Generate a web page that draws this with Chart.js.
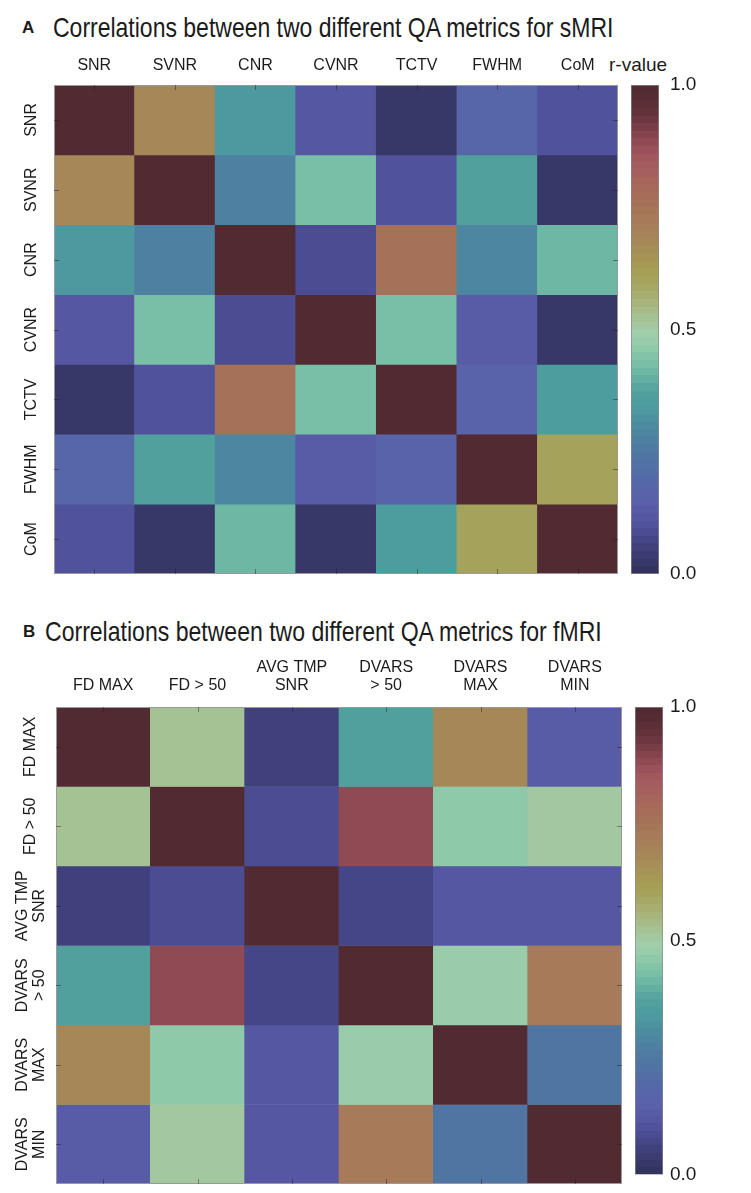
<!DOCTYPE html>
<html lang="en">
<head>
<meta charset="UTF-8">
<title>QA metric correlations - sMRI / fMRI</title>
<script src="https://cdn.jsdelivr.net/npm/chart.js"></script>
<style>
    body { margin: 0; background: #fff; }
    #page { position: relative; width: 751px; height: 1193px; overflow: hidden;
            font-family: "Liberation Sans", Arial, sans-serif; color: #1b1b1b; }
    canvas, .txt { position: absolute; }
    .txt { white-space: nowrap; transform-origin: left center; }
    .letter { font-weight: bold; font-size: 17px; line-height: 17px; }
    .title { font-size: 28px; line-height: 28px; }
    .cb-label { font-size: 19px; line-height: 19px; }
</style>
</head>
<body>
<div id="page">
    <div class="txt letter" style="left:22px; top:19px;">A</div>
    <div class="txt title" id="titleA" style="left:53px; top:14px;">Correlations between two different QA metrics for sMRI</div>
    <div class="txt cb-label" id="rvalue" style="left:609px; top:55px;">r-value</div>
    <canvas id="heatA" width="640" height="600" style="left:0; top:0;"></canvas>
    <canvas id="barA" width="151" height="600" style="left:600px; top:0;"></canvas>

    <div class="txt letter" style="left:23px; top:623px;">B</div>
    <div class="txt title" id="titleB" style="left:45px; top:618px;">Correlations between two different QA metrics for fMRI</div>
    <canvas id="heatB" width="640" height="593" style="left:0; top:600px;"></canvas>
    <canvas id="barB" width="151" height="593" style="left:600px; top:600px;"></canvas>
</div>
<script>
    // ---- data ----
    const smriLabels = ['SNR', 'SVNR', 'CNR', 'CVNR', 'TCTV', 'FWHM', 'CoM'];
    const smriValues = [
        [1.00, 0.68, 0.33, 0.12, 0.03, 0.18, 0.10],
        [0.68, 1.00, 0.27, 0.43, 0.10, 0.36, 0.03],
        [0.33, 0.27, 1.00, 0.08, 0.76, 0.29, 0.42],
        [0.12, 0.43, 0.08, 1.00, 0.43, 0.13, 0.03],
        [0.03, 0.10, 0.76, 0.43, 1.00, 0.16, 0.35],
        [0.18, 0.36, 0.29, 0.13, 0.16, 1.00, 0.60],
        [0.10, 0.03, 0.42, 0.03, 0.35, 0.60, 1.00]
    ];

    const fmriLabels = ['FD MAX', 'FD > 50', ['AVG TMP', 'SNR'], ['DVARS', '> 50'], ['DVARS', 'MAX'], ['DVARS', 'MIN']];
    const fmriValues = [
        [1.00, 0.53, 0.06, 0.37, 0.68, 0.14],
        [0.53, 1.00, 0.09, 0.88, 0.46, 0.50],
        [0.06, 0.09, 1.00, 0.07, 0.12, 0.12],
        [0.37, 0.88, 0.07, 1.00, 0.47, 0.72],
        [0.68, 0.46, 0.12, 0.47, 1.00, 0.24],
        [0.14, 0.50, 0.12, 0.72, 0.24, 1.00]
    ];

    const colorbarTicks = [0, 0.5, 1];

    // colour map sampled from the colour bar (dark navy -> teal -> mint -> olive -> brown -> maroon)
    const cmapStops = [0, 0.04, 0.075, 0.11, 0.145, 0.19, 0.245, 0.30, 0.35, 0.375, 0.42, 0.455,
        0.49, 0.525, 0.56, 0.61, 0.65, 0.70, 0.77, 0.84, 0.87, 0.92, 0.96, 1];
    const cmapColors = ['#31315a', '#3b3c72', '#47488a', '#5355a0', '#5b5fab', '#5468a7', '#4f77a3', '#4d8aa0',
        '#4e9d9e', '#53a29e', '#72baa5', '#8ac8a9', '#a0cfad', '#a5c194', '#a7b277', '#a5a055', '#a59355',
        '#a7815a', '#a66e59', '#a55b5e', '#9a5058', '#733a44', '#5c2e36', '#4e2a30'];
    const LEVELS = 64;

    function hexToRgb(h) {
        const n = parseInt(h.slice(1), 16);
        return [(n >> 16) & 255, (n >> 8) & 255, n & 255];
    }

    function colorAt(v) {
        // banded like the original (64 levels)
        const q = Math.min(LEVELS - 1, Math.max(0, Math.floor(v * LEVELS)));
        const t = (q + 0.5) / LEVELS;
        let i = 1;
        while (i < cmapStops.length - 1 && t > cmapStops[i]) i++;
        const f = (t - cmapStops[i - 1]) / (cmapStops[i] - cmapStops[i - 1]);
        const c0 = hexToRgb(cmapColors[i - 1]), c1 = hexToRgb(cmapColors[i]);
        return 'rgb(' + c0.map((c, k) => Math.round(c + (c1[k] - c) * f)).join(',') + ')';
    }

    const tickFont = { family: '"Liberation Sans", Arial, sans-serif', size: 16, lineHeight: 1.08 };
    const textColor = '#1b1b1b';

    function measure(text, font) {
        const c = document.createElement('canvas').getContext('2d');
        c.font = font;
        return c.measureText(text).width;
    }

    // frame + small inward tick marks like the original
    const framePlugin = {
        id: 'frame',
        afterDatasetsDraw(chart) {
            const { ctx, chartArea: a, scales: { x, y } } = chart;
            ctx.save();
            ctx.strokeStyle = '#9a9a9a';
            ctx.lineWidth = 1;
            ctx.strokeRect(a.left + 0.5, a.top + 0.5, a.width - 1, a.height - 1);
            ctx.strokeStyle = 'rgba(30,30,30,0.45)';
            ctx.beginPath();
            x.ticks.forEach((t, i) => {
                const px = Math.round(x.getPixelForTick(i)) + 0.5;
                ctx.moveTo(px, a.top); ctx.lineTo(px, a.top + 5);
                ctx.moveTo(px, a.bottom); ctx.lineTo(px, a.bottom - 5);
            });
            y.ticks.forEach((t) => {
                const py = Math.round(y.getPixelForValue(t.value)) + 0.5;
                ctx.moveTo(a.left, py); ctx.lineTo(a.left + 5, py);
                ctx.moveTo(a.right, py); ctx.lineTo(a.right - 5, py);
            });
            ctx.stroke();
            ctx.restore();
        }
    };

    function makeHeatmap(id, labels, values, box) {
        const rowLabels = labels;
        const widest = Math.max(...rowLabels.map(l => Math.max(...[].concat(l).map(s =>
            measure(s, tickFont.size + 'px ' + tickFont.family)))));
        const datasets = values.map((row, i) => ({
            label: [].concat(rowLabels[i]).join(' '),
            data: row.map(() => [i, i + 1]),
            backgroundColor: row.map(v => colorAt(v)),
            borderWidth: 0,
            barPercentage: 1,
            categoryPercentage: 1
        }));
        return new Chart(document.getElementById(id), {
            type: 'bar',
            data: { labels: labels, datasets: datasets },
            options: {
                responsive: false,
                animation: false,
                devicePixelRatio: 1,
                layout: { padding: { left: 0, right: box.padRight, top: 0, bottom: box.padBottom } },
                plugins: { legend: { display: false }, tooltip: { enabled: false } },
                scales: {
                    x: {
                        type: 'category',
                        position: 'top',
                        stacked: true,
                        grid: { display: false, drawTicks: false },
                        border: { display: false },
                        ticks: { font: tickFont, color: textColor, maxRotation: 0, minRotation: 0, padding: box.xPad, autoSkip: false },
                        afterFit: (s) => { s.height = box.top; }
                    },
                    y: {
                        type: 'linear',
                        position: 'left',
                        stacked: false,
                        reverse: true,
                        min: 0,
                        max: values.length,
                        grid: { display: false, drawTicks: false },
                        border: { display: false },
                        afterBuildTicks: (s) => { s.ticks = rowLabels.map((l, i) => ({ value: i + 0.5 })); },
                        ticks: {
                            font: tickFont,
                            color: textColor,
                            minRotation: 90,
                            maxRotation: 90,
                            crossAlign: 'center',
                            padding: box.left - box.yLabelX - widest / 2,
                            callback: (v) => rowLabels[Math.floor(v)]
                        },
                        afterFit: (s) => { s.width = box.left; }
                    }
                }
            },
            plugins: [framePlugin]
        });
    }

    function makeColorbar(id, box) {
        return new Chart(document.getElementById(id), {
            type: 'bar',
            data: {
                labels: [''],
                datasets: [{
                    data: [[0, 1]],
                    barPercentage: 1,
                    categoryPercentage: 1,
                    borderWidth: 1,
                    borderColor: '#8a8a8a',
                    borderSkipped: false,
                    backgroundColor: (c) => {
                        const a = c.chart.chartArea;
                        if (!a) return null;
                        const g = c.chart.ctx.createLinearGradient(0, a.bottom, 0, a.top);
                        for (let q = 0; q < LEVELS; q++) {
                            const col = colorAt((q + 0.5) / LEVELS);
                            g.addColorStop(q / LEVELS, col);
                            g.addColorStop((q + 1) / LEVELS, col);
                        }
                        return g;
                    }
                }]
            },
            options: {
                responsive: false,
                animation: false,
                devicePixelRatio: 1,
                layout: { padding: { left: box.padLeft, right: 0, top: box.top, bottom: box.padBottom } },
                plugins: { legend: { display: false }, tooltip: { enabled: false } },
                scales: {
                    x: { display: false },
                    y: {
                        position: 'right',
                        min: 0,
                        max: 1,
                        grid: { display: false, drawTicks: false },
                        border: { display: false },
                        afterBuildTicks: (s) => { s.ticks = colorbarTicks.map(v => ({ value: v })); },
                        ticks: {
                            font: { family: tickFont.family, size: 19 },
                            color: textColor,
                            padding: box.labelPad,
                            callback: (v) => v.toFixed(1)
                        },
                        afterFit: (s) => { s.width = box.axisWidth; }
                    }
                }
            }
        });
    }

    // panel A
    makeHeatmap('heatA', smriLabels, smriValues,
        { left: 54, top: 85, padRight: 22, padBottom: 26, xPad: 11, yLabelX: 32 });
    makeColorbar('barA', { padLeft: 31, top: 85, padBottom: 26, axisWidth: 92, labelPad: 11 });

    // panel B
    makeHeatmap('heatB', fmriLabels, fmriValues,
        { left: 56, top: 107, padRight: 18, padBottom: 9, xPad: 13, yLabelX: 31 });
    makeColorbar('barB', { padLeft: 35, top: 107, padBottom: 9, axisWidth: 88, labelPad: 7 });

    // squeeze the titles to the width they take in the figure
    [['titleA', 562], ['titleB', 558]].forEach(([id, w]) => {
        const el = document.getElementById(id);
        const cs = getComputedStyle(el);
        const mw = measure(el.textContent, cs.fontSize + ' ' + cs.fontFamily);
        el.style.transform = 'scaleX(' + (w / mw).toFixed(3) + ')';
    });
</script>
</body>
</html>
